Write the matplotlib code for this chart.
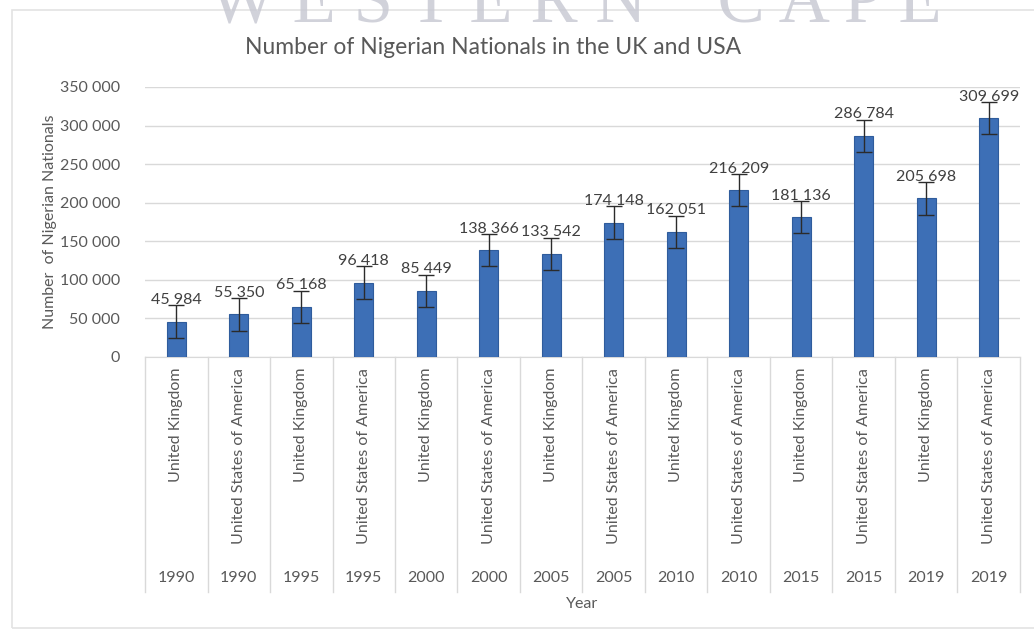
import matplotlib
matplotlib.use("Agg")
import matplotlib.pyplot as plt
from matplotlib.patches import Rectangle
from matplotlib.transforms import blended_transform_factory
from matplotlib.ticker import FuncFormatter, MultipleLocator

# Nigerian nationals living in the UK / USA
countries = ["United Kingdom", "United States of America"] * 7
years = ["1990", "1990", "1995", "1995", "2000", "2000", "2005", "2005",
         "2010", "2010", "2015", "2015", "2019", "2019"]
values = [45984, 55350, 65168, 96418, 85449, 138366, 133542, 174148,
          162051, 216209, 181136, 286784, 205698, 309699]
errors = [21000] * len(values)

GREY = "#595959"
LIGHT = "#d9d9d9"
FONT = "Lato"

def spaced(v):
    return f"{int(v):,}".replace(",", " ")

fig = plt.figure(figsize=(10.34, 6.37), dpi=100)
fig.patch.set_facecolor("white")

# chart area border
fig.patches.append(Rectangle((12 / 1034, 9 / 637), 1.1, 618 / 637,
                             transform=fig.transFigure, fill=False,
                             edgecolor="#e3e3e3", lw=1.2))

# faint page watermark behind the chart
fig.text(0.556, 1 - 23 / 637, "W E S T E R N    C A P E", ha="center",
         va="baseline", fontsize=51, family="Liberation Serif",
         color="#c9cad4", alpha=0.85)

ax = fig.add_axes([145 / 1034, 280 / 637, 875 / 1034, 270 / 637])
x = list(range(len(values)))
ax.bar(x, values, width=0.3, color="#3d6fb6", edgecolor="#2f5c9c",
       linewidth=0.8, zorder=3)
ax.errorbar(x, values, yerr=errors, fmt="none", ecolor="#2b2b2b",
            elinewidth=1, capsize=6, capthick=1, zorder=4)

for xi, v, e in zip(x, values, errors):
    ax.annotate(spaced(v), (xi, v + e), xytext=(0, 1), textcoords="offset points",
                ha="center", va="baseline", fontsize=11.5, color="#404040",
                family=FONT, zorder=5)

ax.set_xlim(-0.5, len(values) - 0.5)
ax.set_ylim(0, 350000)
ax.yaxis.set_major_locator(MultipleLocator(50000))
ax.yaxis.set_major_formatter(FuncFormatter(lambda v, p: spaced(v)))
ax.grid(axis="y", color=LIGHT, lw=1, zorder=0)
ax.tick_params(axis="y", length=0, pad=18, labelsize=11.5, labelcolor=GREY)
for lab in ax.get_yticklabels():
    lab.set_family(FONT)
ax.set_xticks([])
for side in ["left", "right", "top"]:
    ax.spines[side].set_visible(False)
ax.spines["bottom"].set_color(LIGHT)

# two-level category axis: country above year
tr = blended_transform_factory(ax.transData, ax.transAxes)
for k in range(len(values) + 1):
    ax.plot([k - 0.5, k - 0.5], [0, -0.87], transform=tr, color=LIGHT,
            lw=1, clip_on=False)
for xi, c, yr in zip(x, countries, years):
    ax.text(xi, -0.04, c, transform=tr, rotation=90, ha="center", va="top",
            fontsize=11.5, color=GREY, family=FONT)
    ax.text(xi, -0.82, yr, transform=tr, ha="center", va="center",
            fontsize=11.5, color=GREY, family=FONT)

ax.text(0.5, -0.915, "Year", transform=ax.transAxes, ha="center",
        va="center", fontsize=11.5, color=GREY, family=FONT)
ax.set_ylabel("Number  of Nigerian Nationals", fontsize=11.5, color=GREY,
              family=FONT)
ax.yaxis.set_label_coords(-0.101, 0.5)

fig.text(493 / 1034, 1 - 47 / 637, "Number of Nigerian Nationals in the UK and USA",
         ha="center", va="center", fontsize=16.5, color=GREY, family=FONT)

fig.savefig("out.png", dpi=100)
